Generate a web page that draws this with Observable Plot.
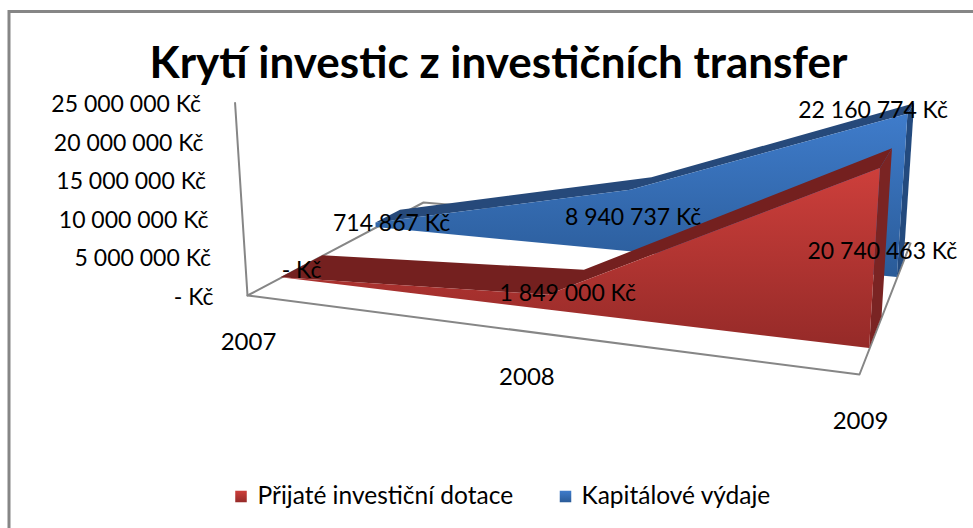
<!DOCTYPE html>
<html><head><meta charset="utf-8">
<script src="https://cdn.jsdelivr.net/npm/d3@7"></script>
<script src="https://cdn.jsdelivr.net/npm/@observablehq/plot@0.6"></script>
<style>html,body{margin:0;padding:0;background:#fff;overflow:hidden}svg{display:block}</style>
</head><body><div id="chart"></div>
<script>
// ---- data ----
const years = [2007, 2008, 2009];
const dotace = [0, 1849000, 20740463];
const vydaje = [714867, 8940737, 22160774];
const axisTicks = [0, 5000000, 10000000, 15000000, 20000000, 25000000];
const seriesNames = ["Přijaté investiční dotace", "Kapitálové výdaje"];
const titleText = "Krytí investic z investičních transfer";

// ---- 3-D camera: floor quad, category and depth parameters ----
const floorQuad = [[247,295],[859,374],[910,243],[423,202]]; // (t,z): 00,10,11,01
const tOf = [0, 0.5, 1], tSkew = [0, 0.05, 0];
const tAt = (i,z) => tOf[i]+tSkew[i]*z;
const redDepth = [0.155, 0.37], blueDepth = [0.68, 0.84];
const [A,B,D,C] = floorQuad;
const sx=A[0]-B[0]+D[0]-C[0], sy=A[1]-B[1]+D[1]-C[1];
const dx1=B[0]-D[0], dy1=B[1]-D[1], dx2=C[0]-D[0], dy2=C[1]-D[1];
const den=dx1*dy2-dx2*dy1;
const g=(sx*dy2-dx2*sy)/den, h=(dx1*sy-sx*dy1)/den;
function project(t,z,v){
  const w=1+g*t+h*z;
  const bx=((B[0]-A[0]+g*B[0])*t+(C[0]-A[0]+h*C[0])*z+A[0])/w;
  const by=((B[1]-A[1]+g*B[1])*t+(C[1]-A[1]+h*C[1])*z+A[1])/w;
  const height=(v/1e6)*(7.7+0.0185*(by-295));
  return [bx+(bx-570)*0.0002*height, by-height];
}
const fmt = v => v===0 ? "- Kč" : d3.format(",")(v).replace(/,/g," ")+" Kč";

// ---- marks' rows ----
const faceRows=(vals,z)=>vals.map((v,i)=>({b:project(tAt(i,z),z,0),a:project(tAt(i,z),z,v)}));
const bandRows=(vals,[z0,z1])=>vals.map((v,i)=>({b:project(tAt(i,z0),z0,v),a:project(tAt(i,z1),z1,v)}));
const sideRows=(vals,[z0,z1])=>[z0,z1].map(z=>({b:project(1,z,0),a:project(1,z,vals[vals.length-1])}));
const quadArea=(rows,fill)=>Plot.area(rows,{x1:d=>d.b[0],y1:d=>d.b[1],x2:d=>d.a[0],y2:d=>d.a[1],fill,curve:"linear"});

const lnk=(pts)=>Plot.line(pts,{x:d=>d[0],y:d=>d[1],stroke:"#868686",strokeWidth:2,curve:"linear"});
const floorLoop=[project(0,0,0),project(1,0,0),project(1,1,0),project(0,1,0),project(0,0,0)];
const wallAxis=[project(0,0,25000000),project(0,0,0)];

const defs=()=>{
  const d=d3.create("svg:defs");
  const mk=(id,c0,c1)=>{const l=d.append("linearGradient").attr("id",id).attr("x1",0).attr("y1",0).attr("x2",0).attr("y2",1);
    l.append("stop").attr("offset",0).attr("stop-color",c0);l.append("stop").attr("offset",1).attr("stop-color",c1);};
  mk("gr","#cd3f3b","#952a28");
  mk("gb","#3f7ccb","#2a5b98");
  return d.node();
};

const labelMid=(vals,[z0,z1])=>vals.map((v,i)=>project(tAt(i,(z0+z1)/2),(z0+z1)/2,v/2));
const nudge=(p,[dx,dy])=>[p[0]+dx,p[1]+dy];
const redNudge=[[-1,4],[1,4],[1,6]], blueNudge=[[3,5],[-8,4],[-33,-78]];
const redMid=labelMid(dotace,redDepth), blueMid=labelMid(vydaje,blueDepth);
const dataLabels=[
  ...dotace.map((v,i)=>({p:nudge(redMid[i],redNudge[i]),t:fmt(v)})),
  ...vydaje.map((v,i)=>({p:nudge(blueMid[i],blueNudge[i]),t:fmt(v)}))
];
const tickRows=axisTicks.map(v=>({p:project(0,0,v),t:fmt(v)}));
const catNudge=[1,8,1];
const catRows=years.map((y,i)=>({p:project(tOf[i],0,0),t:String(y),n:catNudge[i]}));
const legendRows=[
 {x:240.5,tx:257,t:seriesNames[0],f:"url(#gr)"},
 {x:565,tx:581,t:seriesNames[1],f:"url(#gb)"}
];
const FONT="Lato, Carlito, sans-serif";

const chart=Plot.plot({
  width:973,height:528,margin:0,
  x:{type:"identity",axis:null},y:{type:"identity",axis:null},
  style:{fontFamily:FONT,background:"#fff",color:"#000"},
  marks:[
    defs,
    Plot.frame({stroke:"#868686",strokeWidth:3,insetLeft:8.5,insetTop:11,insetRight:-6,insetBottom:-6}),
    Plot.text([titleText],{x:()=>498,y:()=>63,text:d=>d,fontSize:44,fontWeight:700,fill:"#000",textAnchor:"middle"}),
    lnk(floorLoop),lnk(wallAxis),
    quadArea(bandRows(vydaje,blueDepth),"#26497a"),
    quadArea(sideRows(vydaje,blueDepth),"#234a7e"),
    quadArea(faceRows(vydaje,blueDepth[0]),"url(#gb)"),
    quadArea(bandRows(dotace,redDepth),"#74201f"),
    quadArea(sideRows(dotace,redDepth),"#7a2423"),
    quadArea(faceRows(dotace,redDepth[0]),"url(#gr)"),
    Plot.text(tickRows,{x:d=>d.p[0]-34,y:d=>d.p[1]+2,text:"t",textAnchor:"end",fontSize:23,fill:"#000"}),
    Plot.text(catRows,{x:d=>d.p[0]+d.n,y:d=>d.p[1]+47,text:"t",fontSize:24,fill:"#000"}),
    Plot.text(dataLabels,{x:d=>d.p[0],y:d=>d.p[1],text:"t",fontSize:23,fill:"#000"}),
    Plot.dot(legendRows,{x:"x",y:()=>496,r:6.5,symbol:"square",fill:"f"}),
    Plot.text(legendRows,{x:"tx",y:()=>496,text:"t",textAnchor:"start",fontSize:24.5,fill:"#000"})
  ]
});
document.getElementById("chart").append(chart);
</script></body></html>
